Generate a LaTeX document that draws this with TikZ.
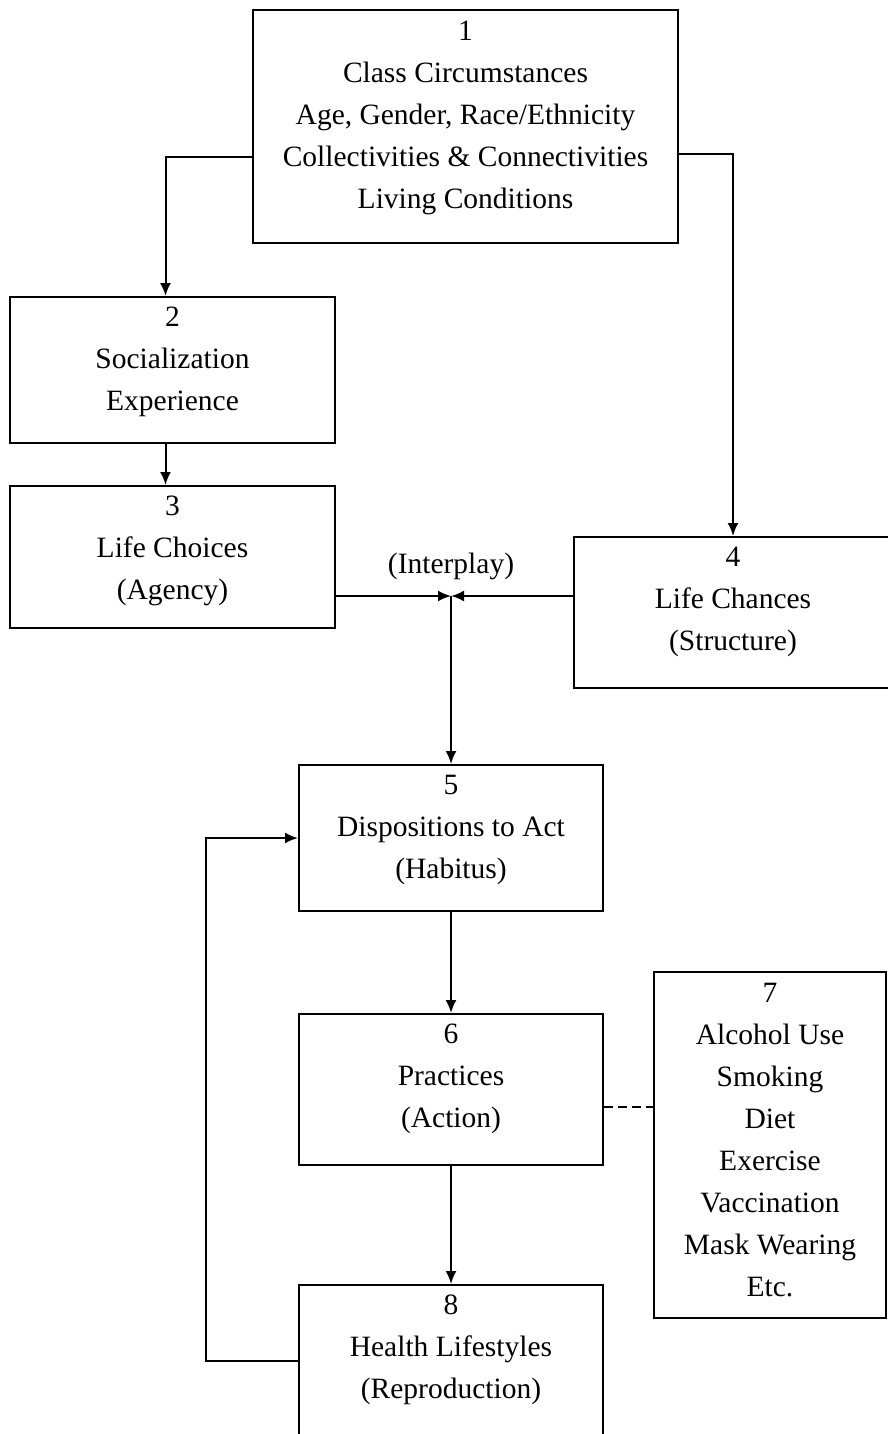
\documentclass[tikz,border=0pt]{standalone}
\usepackage{fontspec}
\setmainfont{Liberation Serif}
\usetikzlibrary{positioning,arrows.meta}
\tikzset{
    stage/.style={draw,line width=2pt,inner sep=0pt,font=\fontsize{29.5pt}{42pt}\selectfont},
    link/.style={line width=2pt}
}
\begin{document}
\begin{tikzpicture}[x=1pt,y=-1pt,>={Latex[length=13pt,width=11pt]}]
    \clip (0,0) rectangle (888,1434);
    \node[stage] (s1) at (465.5,126.5) {\parbox[c][233pt][t]{425pt}{\centering\vspace*{11pt}
    1\\Class Circumstances\\Age, Gender, Race/Ethnicity\\Collectivities \& Connectivities\\Living Conditions}};
    \node[stage] (s2) at (172.5,370) {\parbox[c][146pt][t]{325pt}{\centering\vspace*{10pt}
    2\\Socialization\\Experience}};
    \node[stage] (s3) at (172.5,557) {\parbox[c][142pt][t]{325pt}{\centering\vspace*{10pt}
    3\\Life Choices\\(Agency)}};
    \node[stage] (s4) at (733,612.5) {\parbox[c][151pt][t]{318pt}{\centering\vspace*{10pt}
    4\\Life Chances\\(Structure)}};
    \node[stage] (s5) at (451,838) {\parbox[c][146pt][t]{304pt}{\centering\vspace*{10pt}
    5\\Dispositions to Act\\(Habitus)}};
    \node[stage] (s6) at (451,1089.5) {\parbox[c][151pt][t]{304pt}{\centering\vspace*{10pt}
    6\\Practices\\(Action)}};
    \node[stage] (s7) at (770,1145) {\parbox[c][346pt][t]{232pt}{\centering\vspace*{11pt}
    7\\Alcohol Use\\Smoking\\Diet\\Exercise\\Vaccination\\Mask Wearing\\Etc.}};
    \node[stage] (s8) at (451,1360.5) {\parbox[c][151pt][t]{304pt}{\centering\vspace*{10pt}
    8\\Health Lifestyles\\(Reproduction)}};

    \coordinate (interplay) at (451,596);
    \node[above=13pt of interplay,font=\fontsize{29.5pt}{42pt}\selectfont] (interplaylabel) {(Interplay)};

    \draw[link,->] ([yshift=-31pt]s1.west) -| ([xshift=-7pt]s2.north);
    \draw[link,->] ([yshift=-28pt]s1.east) -| (s4.north);
    \draw[link,->] ([xshift=-7pt]s2.south) -- ([xshift=-7pt]s3.north);
    \draw[link,->] (s3.east |- interplay) -- (interplay);
    \draw[link,->] (s4.west |- interplay) -- (interplay);
    \draw[link,->] (interplay) -- (s5.north);
    \draw[link,->] (s5.south) -- (s6.north);
    \draw[link,->] (s6.south) -- (s8.north);
    \draw[link,dash pattern=on 9pt off 5pt] ([yshift=-17pt]s6.east) -- ([yshift=-17pt]s6.east -| s7.west);
    \draw[link,->] (s8.west) -- ++(-92,0) |- (s5.west);
\end{tikzpicture}
\end{document}
